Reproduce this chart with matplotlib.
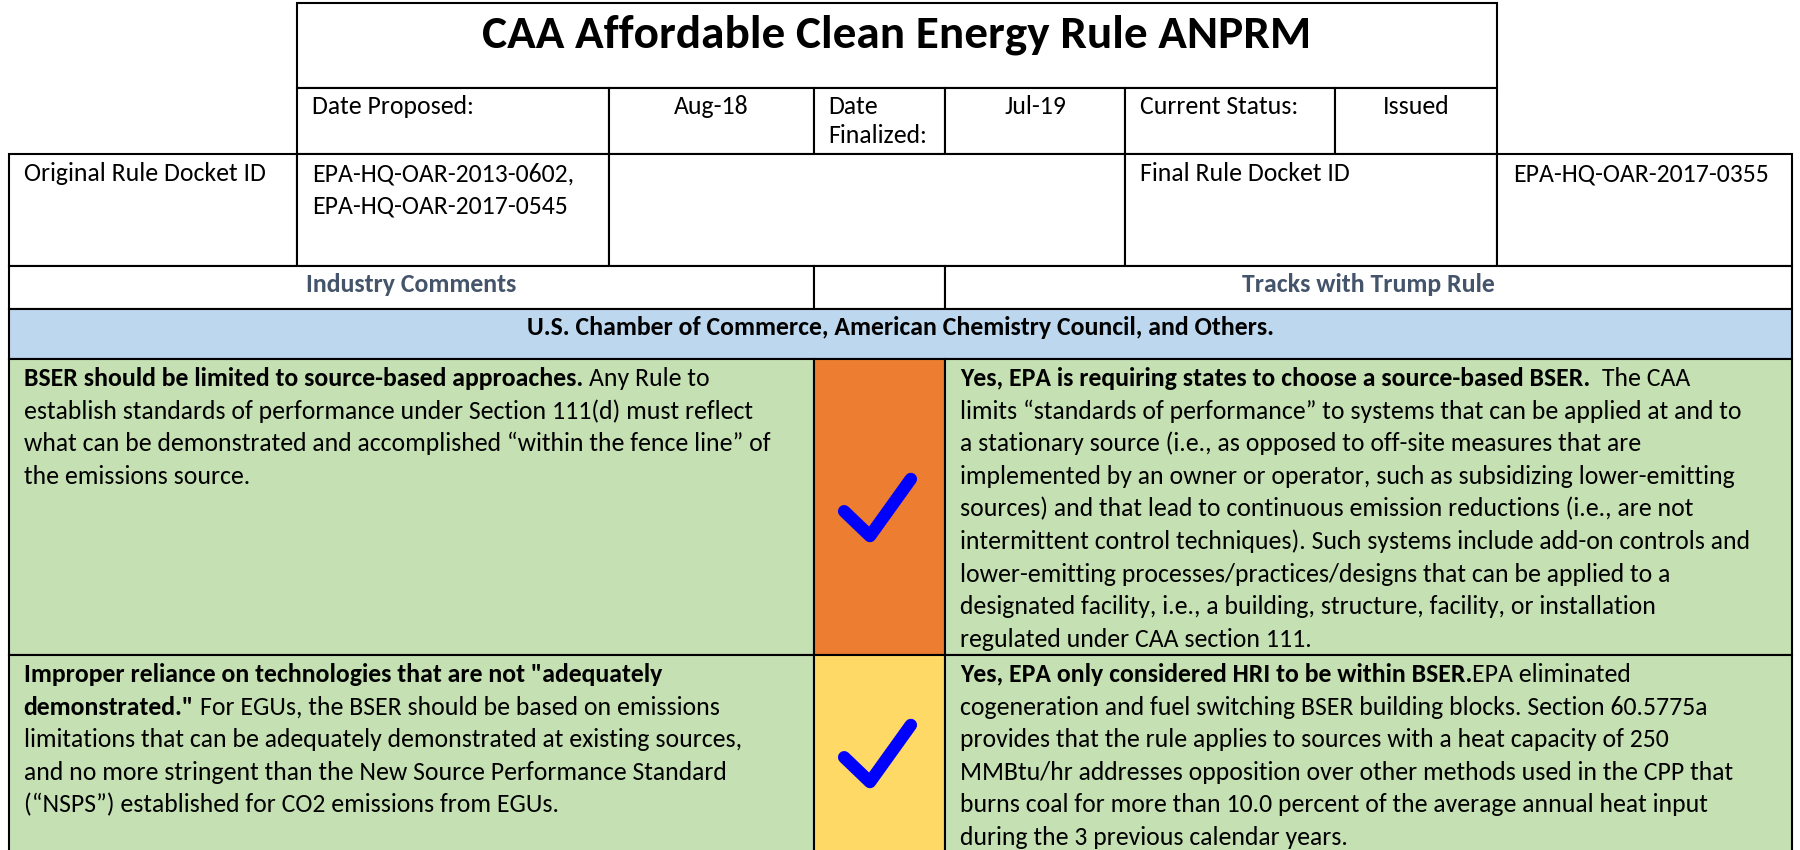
import matplotlib.pyplot as plt
from matplotlib import font_manager
from matplotlib.patches import Rectangle
from matplotlib.path import Path
from matplotlib.markers import MarkerStyle

# Data
title = "CAA Affordable Clean Energy Rule ANPRM"
date_row = ["Date Proposed:", "Aug-18", "Date\nFinalized:", "Jul-19", "Current Status:", "Issued"]
original_docket = ["EPA-HQ-OAR-2013-0602,", "EPA-HQ-OAR-2017-0545"]
final_docket = "EPA-HQ-OAR-2017-0355"
headers = ["Industry Comments", "Tracks with Trump Rule"]
group = "U.S. Chamber of Commerce, American Chemistry Council, and Others."

# each line: (bold part, plain part)
comments = [
    [("BSER should be limited to source-based approaches.", "Any Rule to"),
     ("", "establish standards of performance under Section 111(d) must reflect"),
     ("", "what can be demonstrated and accomplished \u201cwithin the fence line\u201d of"),
     ("", "the emissions source.")],
    [("Improper reliance on technologies that are not \"adequately", ""),
     ("demonstrated.\"", "For EGUs, the BSER should be based on emissions"),
     ("", "limitations that can be adequately demonstrated at existing sources,"),
     ("", "and no more stringent than the New Source Performance Standard"),
     ("", "(\u201cNSPS\u201d) established for CO2 emissions from EGUs.")],
]
tracks = [
    [("Yes, EPA is requiring states to choose a source-based BSER.", "The CAA"),
     ("", "limits \u201cstandards of performance\u201d to systems that can be applied at and to"),
     ("", "a stationary source (i.e., as opposed to off-site measures that are"),
     ("", "implemented by an owner or operator, such as subsidizing lower-emitting"),
     ("", "sources) and that lead to continuous emission reductions (i.e., are not"),
     ("", "intermittent control techniques). Such systems include add-on controls and"),
     ("", "lower-emitting processes/practices/designs that can be applied to a"),
     ("", "designated facility, i.e., a building, structure, facility, or installation"),
     ("", "regulated under CAA section 111.")],
    [("Yes, EPA only considered HRI to be within BSER.", "EPA eliminated"),
     ("", "cogeneration and fuel switching BSER building blocks. Section 60.5775a"),
     ("", "provides that the rule applies to sources with a heat capacity of 250"),
     ("", "MMBtu/hr addresses opposition over other methods used in the CPP that"),
     ("", "burns coal for more than 10.0 percent of the average annual heat input"),
     ("", "during the 3 previous calendar years.")],
]
gaps = [[1, 0, 0, 0], [0, 1, 0, 0, 0]]          # spaces between bold and plain part
track_gaps = [[2, 0, 0, 0, 0, 0, 0, 0, 0], [0, 0, 0, 0, 0, 0]]
status_colors = ["#ED7D31", "#FFD966"]
checked = [True, True]

names = {f.name for f in font_manager.fontManager.ttflist}
FONT = "Carlito" if "Carlito" in names else "Lato"
plt.rcParams["font.family"] = [FONT, "DejaVu Sans"]

FS = 18.5
LW = 1.5
LS = 32.6
GREEN = "#C5E0B3"
BLUE = "#BDD7EE"
HEAD = "#44546A"

# layout (pixels)
X = [8.6, 297, 608.5, 813.5, 945, 1125, 1334.6, 1497, 1791.5]
Y = [3, 88, 154, 266, 309, 359, 655, 870]

fig = plt.figure(figsize=(18, 8.5), dpi=100)
ax = fig.add_axes([0, 0, 1, 1])
ax.set_xlim(0, 1800)
ax.set_ylim(850, 0)
ax.axis("off")


def cell(x0, x1, y0, y1, fc="white"):
    ax.add_patch(Rectangle((x0, y0), x1 - x0, y1 - y0, facecolor=fc,
                           edgecolor="black", linewidth=LW))


def rich(x, y, bold, plain, gap, **kw):
    if bold:
        t = ax.text(x, y, bold, fontsize=FS, fontweight="bold", va="baseline", **kw)
        if plain:
            ax.annotate(plain, xy=(1, 0), xycoords=t, xytext=(gap * FS * 0.23, 0),
                        textcoords="offset points", fontsize=FS, va="bottom", ha="left")
    else:
        ax.text(x, y, plain, fontsize=FS, va="baseline", **kw)


# title + dates
cell(X[1], X[7], Y[0], Y[1])
ax.text((X[1] + X[7]) / 2, Y[0] + 44, title, fontsize=34, fontweight="bold",
        ha="center", va="baseline")
for i in range(6):
    cell(X[1 + i], X[2 + i], Y[1], Y[2])
for i in [0, 2, 4]:
    for k, s in enumerate(date_row[i].split("\n")):
        ax.text(X[1 + i] + 15, Y[1] + 26 + k * 28.5, s, fontsize=FS, va="baseline")
for i in [1, 3, 5]:
    ax.text((X[1 + i] + X[2 + i]) / 2, Y[1] + 26, date_row[i], fontsize=FS,
            ha="center", va="baseline")

# docket row
for a, b in [(0, 1), (1, 2), (2, 5), (5, 7), (7, 8)]:
    cell(X[a], X[b], Y[2], Y[3])
ax.text(X[0] + 15, Y[2] + 27, "Original Rule Docket ID", fontsize=FS, va="baseline")
for k, s in enumerate(original_docket):
    ax.text(X[1] + 15, Y[2] + 27 + k * LS, s, fontsize=FS, va="baseline")
ax.text(X[5] + 15, Y[2] + 27, "Final Rule Docket ID", fontsize=FS, va="baseline")
ax.text(X[7] + 16, Y[2] + 27, final_docket, fontsize=FS, va="baseline")

# header row
cell(X[0], X[3], Y[3], Y[4])
cell(X[3], X[4], Y[3], Y[4])
cell(X[4], X[8], Y[3], Y[4])
ax.text((X[0] + X[3]) / 2, Y[3] + 26, headers[0], fontsize=FS, fontweight="bold",
        color=HEAD, ha="center", va="baseline")
ax.text((X[4] + X[8]) / 2, Y[3] + 26, headers[1], fontsize=FS, fontweight="bold",
        color=HEAD, ha="center", va="baseline")

# group row
cell(X[0], X[8], Y[4], Y[5], BLUE)
ax.text((X[0] + X[8]) / 2, Y[4] + 26, group, fontsize=FS, fontweight="bold",
        ha="center", va="baseline")

# check mark shape (unit box)
check = MarkerStyle(Path([(-31, -3.5), (-7, -26.5), (31, 26.5)],
                         [Path.MOVETO, Path.LINETO, Path.LINETO]),
                    capstyle="round", joinstyle="round")

for r in range(2):
    y0, y1 = Y[5 + r], Y[6 + r]
    cell(X[0], X[3], y0, y1, GREEN)
    cell(X[3], X[4], y0, y1, status_colors[r])
    cell(X[4], X[8], y0, y1, GREEN)
    for k, (b, p) in enumerate(comments[r]):
        rich(X[0] + 15, y0 + 27 + k * LS, b, p, gaps[r][k])
    for k, (b, p) in enumerate(tracks[r]):
        rich(X[4] + 15, y0 + 27 + k * LS, b, p, track_gaps[r][k])
    if checked[r]:
        ax.plot([(X[3] + X[4]) / 2 - 2], [(y0 + min(y1, 850)) / 2], marker=check,
                markersize=48, markerfacecolor="none", markeredgecolor="#0000FF",
                markeredgewidth=9, linestyle="none")

fig.savefig("out.png", dpi=100)
